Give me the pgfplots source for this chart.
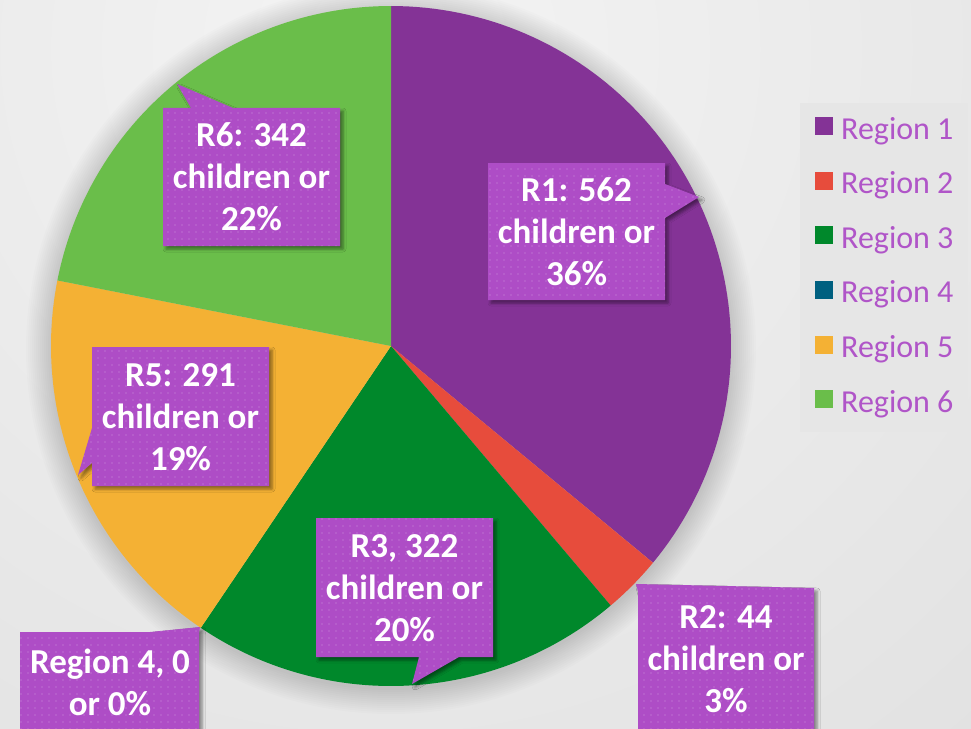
\documentclass[border=0pt]{standalone}
\usepackage{pgfplots}
\pgfplotsset{compat=1.18}
\usepackage{pgfplotstable}
\usepackage{fontspec}
\setmainfont{Carlito}
\usetikzlibrary{patterns.meta,shadows.blur}

\definecolor{c1}{HTML}{843396}
\definecolor{c2}{HTML}{E74C3C}
\definecolor{c3}{HTML}{00882B}
\definecolor{c4}{HTML}{006080}
\definecolor{c5}{HTML}{F4B134}
\definecolor{c6}{HTML}{6ABE4A}
\definecolor{callfill}{HTML}{AE4DC6}
\definecolor{legtext}{HTML}{B055C8}
\definecolor{legbg}{HTML}{E6E6E6}
\definecolor{bgA}{HTML}{F4F4F4}
\definecolor{bgB}{HTML}{E2E2E2}
\definecolor{bgC}{HTML}{C8C8C8}

\pgfdeclareradialshading{bgshade}{\pgfpoint{0bp}{0bp}}{color(0bp)=(bgA); color(12bp)=(bgB); color(25bp)=(bgC); color(50bp)=(bgC)}

\pgfplotstableread{
region value
1 562
2 44
3 322
4 0
5 291
6 342
}\piedata

\tikzset{
  callshadow/.style={blur shadow={shadow xshift=3bp, shadow yshift=-3bp, shadow blur radius=3bp, shadow opacity=45}},
  calltext/.style={text=white, align=center, font=\bfseries\fontsize{35bp}{42bp}\selectfont, inner sep=0pt},
}
\newcommand\callout[3]{%
  \fill[callfill, callshadow] #1;
  \fill[pattern={Dots[distance=7bp, radius=1.1bp]}, pattern color=white, fill opacity=0.13] #1;
  \node[calltext] at #2 {#3};
}

\begin{document}
\begin{tikzpicture}
\path[use as bounding box] (0,0) rectangle (971bp,729bp);
\clip (0,0) rectangle (971bp,729bp);
\shade[shading=bgshade] (380bp,680bp) circle (1900bp);
\begin{axis}[
  at={(0,0)}, anchor=south west,
  width=971bp, height=729bp, scale only axis, hide axis,
  xmin=0, xmax=971, ymin=0, ymax=729, y dir=reverse, clip=false,
  legend style={at={(800/971,1-103/729)}, anchor=north west,
    fill=legbg, draw=none,
    font=\fontsize{32bp}{36bp}\selectfont, text=legtext,
    inner xsep=15bp, inner ysep=14bp, row sep=26.6bp, column sep=8bp,
    nodes={inner sep=0pt, text height=20bp, text depth=6bp},
    cells={anchor=west}},
  legimg/.style={draw=none, legend image code/.code={\path[draw=none, fill] (0bp,-3bp) rectangle (18bp,15bp);}},
]
% soft pie shadow
\pgfplotsinvokeforeach{341,343,...,365}{%
  \fill[black, opacity=0.011] (391,349) circle[radius=#1bp];
}
% total
\pgfplotstablegetrowsof{\piedata}
\pgfmathtruncatemacro\nrows{\pgfplotsretval-1}
\def\total{0}
\pgfplotsforeachungrouped \i in {0,...,\nrows}{%
  \pgfplotstablegetelem{\i}{value}\of\piedata
  \pgfmathsetmacro\total{\total+\pgfplotsretval}%
}
\def\cum{0}
\pgfplotsforeachungrouped \i in {0,...,\nrows}{%
  \pgfplotstablegetelem{\i}{value}\of\piedata
  \let\v\pgfplotsretval
  \pgfmathsetmacro\a{\cum/\total*360}%
  \pgfmathsetmacro\cum{\cum+\v}%
  \pgfmathsetmacro\b{\cum/\total*360}%
  \pgfmathtruncatemacro\k{\i+1}%
  \pgfmathtruncatemacro\pos{\v>0}%
  \ifnum\pos=1
    \edef\temp{\noexpand\addplot[forget plot, draw=none, fill=c\k, domain=\a:\b, samples=90, variable=\noexpand\t] ({391+340*sin(\noexpand\t)},{346-340*cos(\noexpand\t)}) -- (axis cs:391,346) -- cycle;}%
    \temp
  \fi
}
\addlegendimage{legimg, fill=c1}\addlegendentry{Region 1}
\addlegendimage{legimg, fill=c2}\addlegendentry{Region 2}
\addlegendimage{legimg, fill=c3}\addlegendentry{Region 3}
\addlegendimage{legimg, fill=c4}\addlegendentry{Region 4}
\addlegendimage{legimg, fill=c5}\addlegendentry{Region 5}
\addlegendimage{legimg, fill=c6}\addlegendentry{Region 6}

\callout{(488,163) -- (665,163) -- (665,184) -- (699,197) -- (665,218) -- (665,300) -- (488,300) -- cycle}{(576.5,232)}{R1: 562\\children or\\36\%}
\callout{(163,108) -- (191,108) -- (177,84) -- (233,108) -- (340,108) -- (340,246) -- (163,246) -- cycle}{(251.5,177)}{R6: 342\\children or\\22\%}
\callout{(92,347) -- (269,347) -- (269,486) -- (92,486) -- (92,463) -- (78,475) -- (92,428) -- cycle}{(180.5,417)}{R5: 291\\children or\\19\%}
\callout{(316,518) -- (493,518) -- (493,657) -- (459,657) -- (412,684) -- (419,657) -- (316,657) -- cycle}{(404.5,588)}{R3, 322\\children or\\20\%}
\callout{(20,632) -- (150,632) -- (200,627) -- (199,632) -- (199,770) -- (20,770) -- cycle}{(110,682)}{Region 4, 0\\or 0\%}
\callout{(636,584) -- (814,588) -- (814,770) -- (638,770) -- (638,592) -- cycle}{(726,659)}{R2: 44\\children or\\3\%}
\end{axis}
\end{tikzpicture}
\end{document}
